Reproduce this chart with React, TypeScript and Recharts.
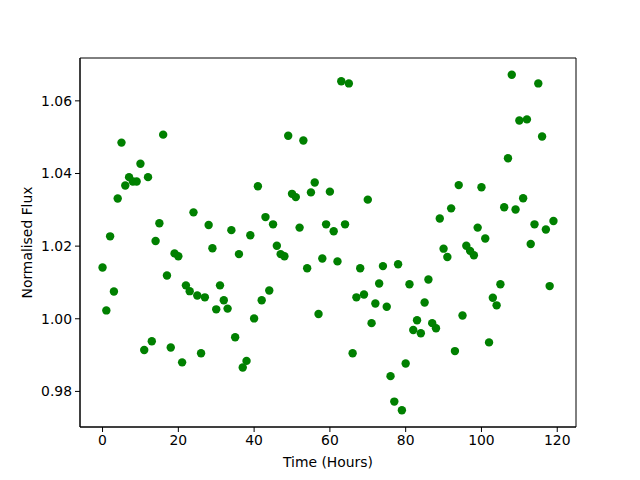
import { ReferenceArea, Scatter, ScatterChart, XAxis, YAxis } from "recharts";

// normalised flux, one reading per hour (0..119)
const hours = Array.from({ length: 120 }, (_, i) => i);
const flux = [
  1.0141, 1.0023, 1.0227, 1.0075, 1.0331, 1.0485, 1.0367, 1.039, 1.0378, 1.0378,
  1.0427, 0.9914, 1.039, 0.9938, 1.0214, 1.0263, 1.0507, 1.0119, 0.9921, 1.018,
  1.0172, 0.988, 1.0092, 1.0076, 1.0293, 1.0064, 0.9905, 1.0059, 1.0258, 1.0194,
  1.0026, 1.0092, 1.0051, 1.0028, 1.0244, 0.9949, 1.0178, 0.9866, 0.9884, 1.023,
  1.0001, 1.0365, 1.0051, 1.028, 1.0078, 1.026, 1.0201, 1.0178, 1.0172, 1.0504,
  1.0344, 1.0335, 1.0251, 1.0491, 1.0139, 1.0348, 1.0375, 1.0013, 1.0166, 1.026,
  1.035, 1.0241, 1.0158, 1.0654, 1.026, 1.0648, 0.9905, 1.0059, 1.0139, 1.0067,
  1.0328, 0.9988, 1.0042, 1.0097, 1.0145, 1.0033, 0.9842, 0.9772, 1.015, 0.9748,
  0.9877, 1.0095, 0.9969, 0.9996, 0.996, 1.0045, 1.0108, 0.9988, 0.9974, 1.0276,
  1.0193, 1.017, 1.0304, 0.9911, 1.0368, 1.0009, 1.0201, 1.0187, 1.0175, 1.0251,
  1.0362, 1.0221, 0.9935, 1.0058, 1.0037, 1.0095, 1.0307, 1.0442, 1.0672, 1.0301,
  1.0546, 1.0332, 1.0549, 1.0206, 1.026, 1.0648, 1.0502, 1.0246, 1.009, 1.0269,
];
const xTicks = [0, 20, 40, 60, 80, 100, 120];
const yTicks = [0.98, 1.0, 1.02, 1.04, 1.06];
const xDomain: [number, number] = [-5.95, 124.95];
const yDomain: [number, number] = [0.9702, 1.0718];

const data = hours.map((t, i) => ({ t, f: flux[i] }));

const font = "'DejaVu Sans', sans-serif";
const tick = { fontSize: 13.9, fill: "#000", fontFamily: font };

const Dot = (p: any) => <circle cx={p.cx} cy={p.cy} r={4.2} fill="#008000" />;

export default function App() {
  return (
    <div style={{ position: "absolute", left: 0, top: 0, background: "#fff" }}>
      <ScatterChart width={640} height={480} margin={{ top: 58, right: 64, bottom: 13, left: 20 }}>
        <XAxis
          type="number"
          dataKey="t"
          domain={xDomain}
          ticks={xTicks}
          allowDataOverflow
          height={40}
          tick={tick}
          tickSize={5}
          tickMargin={3}
          stroke="#000"
          label={{ value: "Time (Hours)", position: "insideBottom", offset: 0, style: { fontSize: 13.9, fill: "#000", fontFamily: font } }}
        />
        <YAxis
          type="number"
          dataKey="f"
          domain={yDomain}
          ticks={yTicks}
          allowDataOverflow
          width={60}
          tick={tick}
          tickSize={5}
          tickMargin={3}
          tickFormatter={(v: number) => v.toFixed(2)}
          stroke="#000"
          label={{ value: "Normalised Flux", angle: -90, position: "insideLeft", offset: 7, style: { textAnchor: "middle", fontSize: 13.9, fill: "#000", fontFamily: font } }}
        />
        <ReferenceArea x1={xDomain[0]} x2={xDomain[1]} y1={yDomain[0]} y2={yDomain[1]} fill="none" stroke="#000" strokeWidth={1} />
        <Scatter data={data} shape={Dot} isAnimationActive={false} />
      </ScatterChart>
    </div>
  );
}
